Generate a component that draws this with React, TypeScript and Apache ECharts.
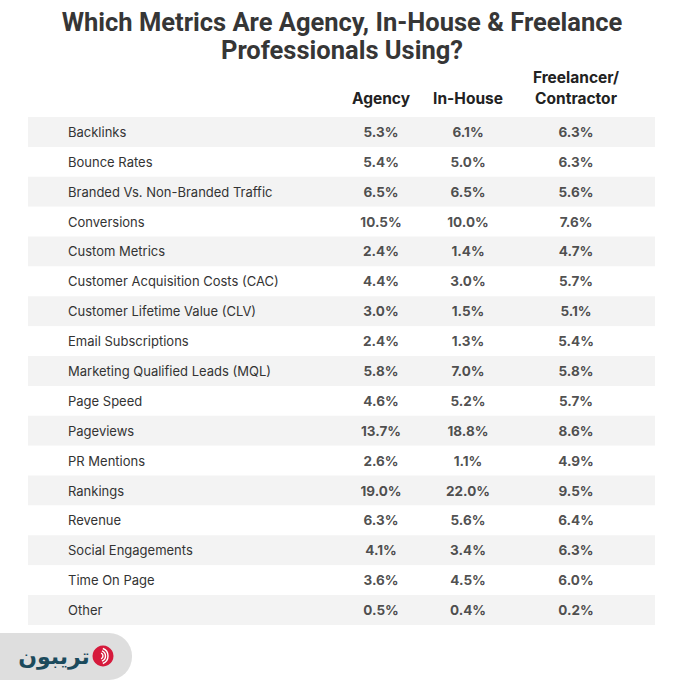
import React, { useEffect, useRef } from "react";
import * as echarts from "echarts";

const metrics = [
  "Backlinks",
  "Bounce Rates",
  "Branded Vs. Non-Branded Traffic",
  "Conversions",
  "Custom Metrics",
  "Customer Acquisition Costs (CAC)",
  "Customer Lifetime Value (CLV)",
  "Email Subscriptions",
  "Marketing Qualified Leads (MQL)",
  "Page Speed",
  "Pageviews",
  "PR Mentions",
  "Rankings",
  "Revenue",
  "Social Engagements",
  "Time On Page",
  "Other",
];
const agency = [5.3, 5.4, 6.5, 10.5, 2.4, 4.4, 3.0, 2.4, 5.8, 4.6, 13.7, 2.6, 19.0, 6.3, 4.1, 3.6, 0.5];
const inHouse = [6.1, 5.0, 6.5, 10.0, 1.4, 3.0, 1.5, 1.3, 7.0, 5.2, 18.8, 1.1, 22.0, 5.6, 3.4, 4.5, 0.4];
const freelancer = [6.3, 6.3, 5.6, 7.6, 4.7, 5.7, 5.1, 5.4, 5.8, 5.7, 8.6, 4.9, 9.5, 6.4, 6.3, 6.0, 0.2];
const columnHeaders = ["Agency", "In-House", "Freelancer/\nContractor"];
const titleText = "Which Metrics Are Agency, In-House & Freelance\nProfessionals Using?";

// layout constants (pixel offsets within the grid)
const GRID_LEFT = 28;
const GRID_RIGHT_EDGE = 655;
const colCenters = [381, 468, 576];

export default function App() {
  const ref = useRef<HTMLDivElement>(null);
  useEffect(() => {
    if (!ref.current) return;
    const chart = echarts.init(ref.current, null, { renderer: "svg" });
    const gridW = GRID_RIGHT_EDGE - GRID_LEFT;
    const cols = [agency, inHouse, freelancer];
    const series = cols.map((vals, ci) => ({
      type: "scatter",
      symbolSize: 1,
      itemStyle: { color: "rgba(0,0,0,0)" },
      silent: true,
      data: vals.map((v, i) => [colCenters[ci] - GRID_LEFT, metrics[i], v]),
      label: {
        show: true,
        position: "inside",
        formatter: (p: any) => p.value[2].toFixed(1) + "%",
        fontFamily: "Inter",
        fontWeight: "bold",
        fontSize: 13.5,
        color: "#222222",
      },
    }));
    const headerGraphics: any[] = columnHeaders.map((h, ci) => ({
      type: "text",
      x: colCenters[ci],
      y: 109,
      style: {
        text: h,
        textAlign: "center",
        textVerticalAlign: "bottom",
        font: 'bold 15.5px "Inter"',
        fill: "#222222",
        lineHeight: 21,
      },
    }));
    const titleGraphic: any = {
      type: "text",
      x: 342,
      y: 36,
      style: {
        text: titleText,
        textAlign: "center",
        textVerticalAlign: "middle",
        font: 'bold 25.5px "Roboto"',
        fill: "#363636",
        lineHeight: 28,
      },
    };
    const logo: any = {
      type: "group",
      children: [
        {
          type: "rect",
          shape: { x: -30, y: 633, width: 162, height: 47, r: 23 },
          style: { fill: "#dedede" },
        },
        {
          type: "text",
          x: 54,
          y: 656,
          style: {
            text: "تریبون",
            textAlign: "center",
            textVerticalAlign: "middle",
            font: 'bold 22px "DejaVu Sans"',
            fill: "#1b4a5c",
          },
        },
        {
          type: "circle",
          shape: { cx: 103, cy: 656, r: 10.5 },
          style: { fill: "#d61a3c" },
        },
        ...[3, 5.5, 8].map((r) => ({
          type: "arc",
          shape: { cx: 100, cy: 656, r, startAngle: -Math.PI / 2.6, endAngle: Math.PI / 2.6 },
          style: { stroke: "#ffffff", lineWidth: 1.4, fill: "none" },
        })),
      ],
    };
    chart.setOption({
      animation: false,
      backgroundColor: "#ffffff",
      grid: { left: GRID_LEFT, right: 700 - GRID_RIGHT_EDGE, top: 117, bottom: 690 - 625 },
      xAxis: { type: "value", min: 0, max: gridW, show: false },
      yAxis: {
        type: "category",
        inverse: true,
        data: metrics,
        boundaryGap: true,
        axisLine: { show: false },
        axisTick: { show: false },
        splitLine: { show: false },
        splitArea: { show: true, areaStyle: { color: ["#f3f3f3", "#ffffff"] } },
        axisLabel: {
          inside: true,
          margin: 40,
          fontFamily: "Inter",
          fontSize: 13,
          color: "#333333",
          align: "left",
        },
      },
      series,
      graphic: [titleGraphic, ...headerGraphics, logo],
    });
    return () => chart.dispose();
  }, []);
  return (
    <div
      ref={ref}
      style={{ position: "absolute", left: 0, top: 0, width: 700, height: 690 }}
    />
  );
}
